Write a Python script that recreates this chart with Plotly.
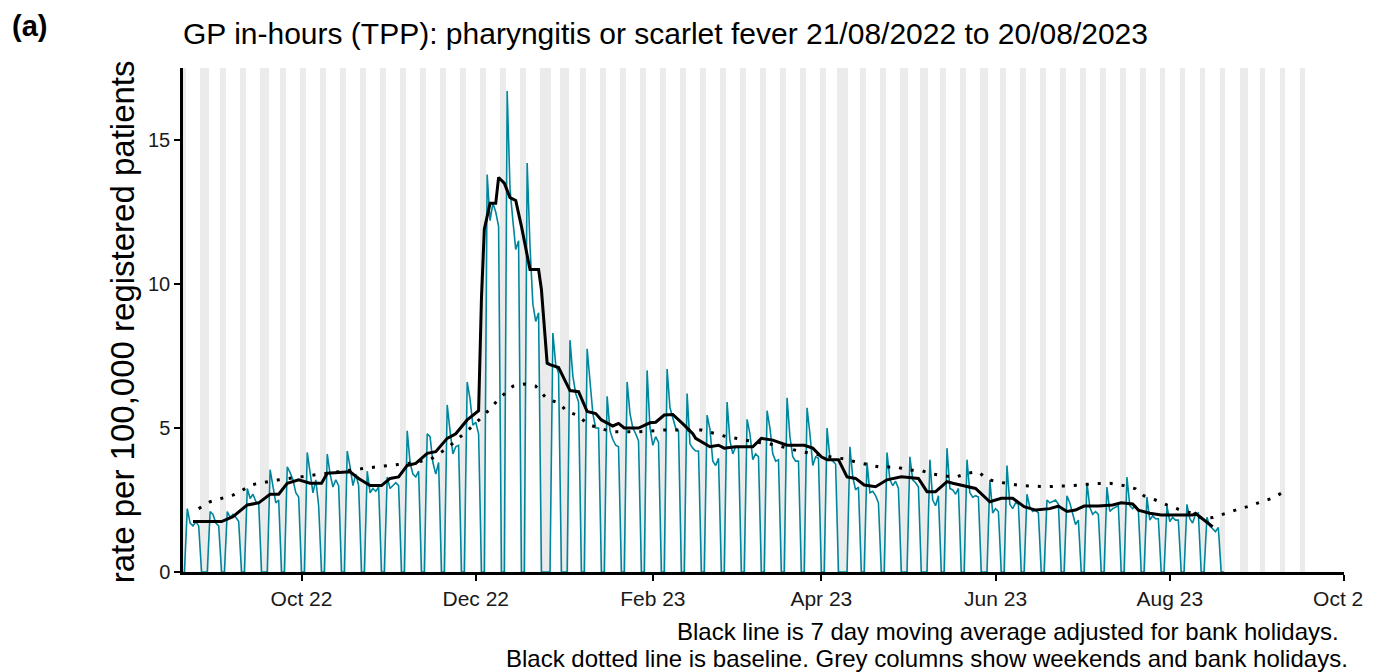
import pandas as pd
import plotly.graph_objects as go

# ---------------- data ----------------
start_date = "2022-08-21"   # first day (a Sunday, value 0)
# Mon..Fri daily rates per week, weeks starting Monday 22/08/2022 (bank holidays = 0)
weekday_rates = [
    [2.2, 1.7, 1.6, 1.75, 1.6],     # 22 Aug
    [0, 2.1, 2.0, 1.7, 1.6],        # 29 Aug
    [2.1, 1.9, 2.0, 1.9, 1.75],     # 5 Sep
    [2.9, 2.55, 2.7, 2.45, 2.4],    # 12 Sep
    [0, 3.55, 3.0, 2.4, 2.5],       # 19 Sep
    [3.65, 3.45, 3.2, 2.75, 2.6],   # 26 Sep
    [4.15, 3.5, 2.75, 3.2, 2.3],    # 3 Oct
    [4.1, 3.4, 2.95, 3.2, 3.0],     # 10 Oct
    [4.2, 3.65, 3.0, 3.4, 3.0],     # 17 Oct
    [3.5, 2.75, 2.9, 2.8, 2.95],    # 24 Oct
    [3.3, 2.9, 3.0, 3.1, 3.0],      # 31 Oct
    [4.9, 3.8, 3.4, 3.3, 3.5],      # 7 Nov
    [4.8, 4.7, 3.8, 3.4, 3.8],      # 14 Nov
    [5.8, 4.9, 4.1, 4.35, 4.4],     # 21 Nov
    [6.6, 6.0, 5.1, 5.2, 4.8],      # 28 Nov
    [13.8, 12.2, 12.8, 12.5, 12.0], # 5 Dec
    [16.7, 13.3, 12.2, 11.2, 11.5], # 12 Dec
    [14.2, 11.3, 9.3, 8.7, 9.0],    # 19 Dec
    [0, 0, 8.3, 7.2, 6.9],          # 26 Dec
    [0, 8.05, 6.8, 6.2, 5.9],       # 2 Jan
    [7.75, 6.5, 5.5, 5.0, 5.0],     # 9 Jan
    [6.1, 4.9, 4.6, 4.4, 4.35],     # 16 Jan
    [6.6, 5.5, 5.0, 4.8, 4.55],     # 23 Jan
    [7.0, 5.0, 4.4, 4.7, 4.5],      # 30 Jan
    [7.05, 5.7, 5.3, 5.0, 4.9],     # 6 Feb
    [6.2, 4.45, 4.3, 4.2, 4.2],     # 13 Feb
    [5.45, 4.95, 3.85, 3.7, 3.95],  # 20 Feb
    [5.9, 4.55, 4.1, 4.35, 4.3],    # 27 Feb
    [5.3, 4.8, 3.9, 4.1, 4.0],      # 6 Mar
    [5.6, 5.0, 4.1, 3.85, 3.9],     # 13 Mar
    [6.05, 4.7, 4.0, 3.85, 3.85],   # 20 Mar
    [5.7, 4.8, 3.7, 4.0, 3.95],     # 27 Mar
    [5.0, 3.95, 3.85, 3.75, 0],     # 3 Apr
    [0, 4.35, 3.3, 2.85, 2.95],     # 10 Apr
    [3.8, 2.75, 2.8, 2.65, 2.4],    # 17 Apr
    [4.15, 3.2, 3.0, 3.15, 2.9],    # 24 Apr
    [0, 4.0, 3.2, 3.1, 2.95],       # 1 May
    [0, 3.9, 2.5, 2.3, 2.65],       # 8 May
    [4.3, 2.9, 2.85, 2.7, 2.9],     # 15 May
    [3.9, 2.75, 2.6, 2.65, 2.6],    # 22 May
    [0, 3.2, 2.05, 2.2, 2.1],       # 29 May
    [3.7, 2.35, 2.2, 2.4, 2.35],    # 5 Jun
    [2.7, 2.25, 2.1, 2.15, 2.05],   # 12 Jun
    [2.5, 2.4, 2.45, 2.5, 2.35],    # 19 Jun
    [2.65, 2.4, 2.05, 1.65, 1.8],   # 26 Jun
    [3.1, 2.25, 2.0, 2.1, 2.0],     # 3 Jul
    [2.95, 2.1, 2.2, 2.25, 2.3],    # 10 Jul
    [3.3, 2.3, 2.2, 2.3, 2.15],     # 17 Jul
    [2.6, 1.8, 1.95, 1.85, 1.85],   # 24 Jul
    [2.3, 1.75, 1.9, 1.8, 1.8],     # 31 Jul
    [2.35, 1.85, 1.7, 2.0, 2.05],   # 7 Aug
    [1.9, 1.6, 1.5, 1.4, 1.55],     # 14 Aug
]

avg_dates = ["2022-08-24", "2022-09-03", "2022-09-07", "2022-09-12", "2022-09-16", "2022-09-20",
             "2022-09-23", "2022-09-26", "2022-09-30", "2022-10-04", "2022-10-08", "2022-10-10",
             "2022-10-18", "2022-10-21", "2022-10-25", "2022-10-29", "2022-11-01", "2022-11-04",
             "2022-11-07", "2022-11-10", "2022-11-14", "2022-11-17", "2022-11-21", "2022-11-24",
             "2022-11-28", "2022-12-01", "2022-12-02", "2022-12-03", "2022-12-04", "2022-12-06",
             "2022-12-08", "2022-12-09", "2022-12-11", "2022-12-13", "2022-12-15", "2022-12-17",
             "2022-12-20", "2022-12-23", "2022-12-24", "2022-12-26", "2022-12-27", "2022-12-30",
             "2023-01-03", "2023-01-06", "2023-01-09", "2023-01-12", "2023-01-14", "2023-01-18",
             "2023-01-20", "2023-01-22", "2023-01-27", "2023-01-31", "2023-02-02", "2023-02-05",
             "2023-02-08", "2023-02-12", "2023-02-15", "2023-02-16", "2023-02-21", "2023-02-24",
             "2023-02-26", "2023-03-02", "2023-03-08", "2023-03-11", "2023-03-15", "2023-03-20",
             "2023-03-26", "2023-03-29", "2023-04-01", "2023-04-03", "2023-04-07", "2023-04-10",
             "2023-04-13", "2023-04-16", "2023-04-20", "2023-04-24", "2023-04-29", "2023-05-05",
             "2023-05-08", "2023-05-11", "2023-05-15", "2023-05-17", "2023-05-21", "2023-05-25",
             "2023-05-30", "2023-06-03", "2023-06-07", "2023-06-11", "2023-06-15", "2023-06-20",
             "2023-06-23", "2023-06-26", "2023-06-29", "2023-07-02", "2023-07-07", "2023-07-12",
             "2023-07-15", "2023-07-19", "2023-07-21", "2023-07-25", "2023-07-29", "2023-08-04",
             "2023-08-09", "2023-08-10", "2023-08-13", "2023-08-16"]
avg_values = [1.75, 1.75, 1.92, 2.33, 2.4, 2.7,
              2.7, 3.08, 3.2, 3.08, 3.08, 3.43,
              3.48, 3.25, 3.0, 3.0, 3.25, 3.3,
              3.7, 3.77, 4.12, 4.18, 4.64, 4.8,
              5.28, 5.5, 5.6, 9.5, 11.9, 12.8,
              12.8, 13.7, 13.5, 13.0, 12.9, 12.0,
              10.5, 10.5, 9.8, 7.25, 7.2, 7.1,
              6.3, 6.26, 5.57, 5.5, 5.28, 5.07,
              5.16, 5.0, 5.0, 5.18, 5.2, 5.45,
              5.47, 5.1, 4.8, 4.64, 4.35, 4.4,
              4.3, 4.35, 4.35, 4.64, 4.58, 4.4,
              4.4, 4.3, 4.0, 3.9, 3.9, 3.3,
              3.25, 3.02, 2.96, 3.2, 3.31, 3.25,
              2.79, 2.79, 3.14, 3.08, 2.99, 2.9,
              2.44, 2.56, 2.56, 2.27, 2.15, 2.2,
              2.29, 2.1, 2.15, 2.29, 2.29, 2.33,
              2.4, 2.36, 2.15, 2.04, 1.98, 1.98,
              1.98, 2.04, 1.8, 1.57]

baseline_dates = ["2022-08-26", "2022-08-30", "2022-09-07", "2022-09-14", "2022-09-23", "2022-10-02",
                  "2022-10-10", "2022-10-19", "2022-10-28", "2022-11-06", "2022-11-15", "2022-11-21",
                  "2022-11-28", "2022-12-04", "2022-12-09", "2022-12-14", "2022-12-18", "2022-12-22",
                  "2022-12-26", "2022-12-30", "2023-01-02", "2023-01-06", "2023-01-09", "2023-01-13",
                  "2023-01-18", "2023-01-27", "2023-02-05", "2023-02-18", "2023-02-26", "2023-03-07",
                  "2023-03-16", "2023-03-24", "2023-04-02", "2023-04-10", "2023-04-13", "2023-04-18",
                  "2023-04-22", "2023-04-27", "2023-05-01", "2023-05-06", "2023-05-10", "2023-05-14",
                  "2023-05-18", "2023-05-22", "2023-05-26", "2023-05-29", "2023-06-01", "2023-06-06",
                  "2023-06-10", "2023-06-19", "2023-06-28", "2023-07-07", "2023-07-11", "2023-07-16",
                  "2023-07-20", "2023-07-23", "2023-07-27", "2023-07-31", "2023-08-04", "2023-08-08",
                  "2023-08-12", "2023-08-16", "2023-08-21", "2023-08-25", "2023-08-29", "2023-09-02",
                  "2023-09-06", "2023-09-10"]
baseline_values = [2.2, 2.44, 2.67, 3.04, 3.2, 3.33,
                   3.42, 3.55, 3.66, 3.75, 3.9, 4.3,
                   4.9, 5.45, 6.0, 6.45, 6.53, 6.45,
                   6.0, 5.88, 5.57, 5.43, 5.14, 5.0,
                   4.87, 4.87, 4.93, 4.93, 4.72, 4.55,
                   4.41, 4.2, 4.03, 3.91, 3.82, 3.72,
                   3.63, 3.66, 3.54, 3.52, 3.4, 3.34,
                   3.29, 3.43, 3.48, 3.23, 3.14, 3.06,
                   3.0, 2.96, 3.0, 3.07, 3.08, 3.0,
                   2.89, 2.64, 2.5, 2.33, 2.18, 2.06,
                   1.88, 1.89, 2.06, 2.18, 2.29, 2.44,
                   2.56, 2.79]

bank_holidays = ["2022-08-29", "2022-09-19", "2022-12-26", "2022-12-27", "2023-01-02",
                 "2023-04-07", "2023-04-10", "2023-05-01", "2023-05-08", "2023-05-29", "2023-08-28"]
shade_end = "2023-09-17"

tick_dates = ["2022-10-01", "2022-12-01", "2023-02-01", "2023-04-01", "2023-06-01", "2023-08-01", "2023-10-01"]
tick_labels = ["Oct 22", "Dec 22", "Feb 23", "Apr 23", "Jun 23", "Aug 23", "Oct 23"]
y_ticks = [0, 5, 10, 15]

title_text = "GP in-hours (TPP): pharyngitis or scarlet fever 21/08/2022 to 20/08/2023"
y_title = "rate per 100,000 registered patients"
caption_1 = "Black line is 7 day moving average adjusted for bank holidays."
caption_2 = "Black dotted line is baseline. Grey columns show weekends and bank holidays."
panel_label = "(a)"

# ---------------- build series ----------------
daily_values = [0.0]
for week in weekday_rates:
    daily_values += list(week) + [0.0, 0.0]
daily_dates = pd.date_range(start_date, periods=len(daily_values), freq="D")

all_days = pd.date_range(start_date, shade_end, freq="D")
grey_days = [d for d in all_days if d.weekday() >= 5 or d.strftime("%Y-%m-%d") in bank_holidays]

Y_MAX = 17.5
FONT = "Liberation Sans, Arial, sans-serif"

# page body has an 8px margin: the figure is sized so that it sits like the reference
OFF = 8
W, H = 1387 - OFF, 672 - OFF
PL, PR, PT, PB = 183, 1350, 68, 572          # plot area in reference pixels
PW, PH = PR - PL, PB - PT


def px_x(x):
    return (x - PL) / PW


def px_y(y):
    return (PB - y) / PH


fig = go.Figure()
fig.add_trace(go.Bar(
    x=grey_days, y=[Y_MAX] * len(grey_days), width=86400000,
    marker=dict(color="#ebebeb", line=dict(width=0)), hoverinfo="skip", showlegend=False))
fig.add_trace(go.Scatter(
    x=daily_dates, y=daily_values, mode="lines",
    line=dict(color="#00869c", width=1.6), showlegend=False))
fig.add_trace(go.Scatter(
    x=pd.to_datetime(baseline_dates), y=baseline_values, mode="lines",
    line=dict(color="black", width=3, dash="3px,9px"), showlegend=False))
fig.add_trace(go.Scatter(
    x=pd.to_datetime(avg_dates), y=avg_values, mode="lines",
    line=dict(color="black", width=3), showlegend=False))

fig.update_layout(
    width=W, height=H,
    margin=dict(l=PL - OFF, r=W - (PR - OFF), t=PT - OFF, b=H - (PB - OFF)),
    paper_bgcolor="white", plot_bgcolor="white",
    bargap=0,
    font=dict(family=FONT, color="black"),
    title=dict(text=title_text, x=0, xref="paper", xanchor="left",
               y=1 - (33 - OFF) / H, yref="container", yanchor="middle",
               font=dict(size=30, family=FONT, color="black")),
    xaxis=dict(type="date", range=["2022-08-20 12:00", "2023-10-01"],
               tickvals=pd.to_datetime(tick_dates), ticktext=tick_labels,
               showgrid=False, zeroline=False, showline=True, linecolor="black", linewidth=2.5,
               ticks="outside", ticklen=6, tickwidth=2, tickcolor="black",
               tickfont=dict(size=21, color="#1a1a1a")),
    yaxis=dict(range=[0, Y_MAX], tickvals=y_ticks,
               showgrid=False, zeroline=False, showline=True, linecolor="black", linewidth=2.5,
               ticks="outside", ticklen=6, tickwidth=2, tickcolor="black",
               tickfont=dict(size=20, color="#1a1a1a")),
    annotations=[
        dict(text=y_title, textangle=-90, x=px_x(122), y=px_y(322),
             xref="paper", yref="paper", xanchor="center", yanchor="middle",
             showarrow=False, font=dict(size=33, color="black")),
        dict(text="<b>" + panel_label + "</b>", x=px_x(10), y=px_y(9),
             xref="paper", yref="paper", xanchor="left", yanchor="top", borderpad=0,
             showarrow=False, font=dict(size=29, color="black")),
        dict(text=caption_1, x=px_x(1346), y=px_y(631),
             xref="paper", yref="paper", xanchor="right", yanchor="middle", borderpad=0,
             showarrow=False, font=dict(size=24, color="black")),
        dict(text=caption_2, x=px_x(1355), y=px_y(658),
             xref="paper", yref="paper", xanchor="right", yanchor="middle", borderpad=0,
             showarrow=False, font=dict(size=24, color="black")),
    ],
)

# the reference image is cropped at its right edge (the last tick label is cut)
fig.add_shape(type="rect", xref="paper", yref="paper", layer="above",
              x0=px_x(1369), x1=px_x(1420), y0=px_y(620), y1=px_y(576),
              fillcolor="white", line=dict(width=0))

fig.write_html("out.html")
